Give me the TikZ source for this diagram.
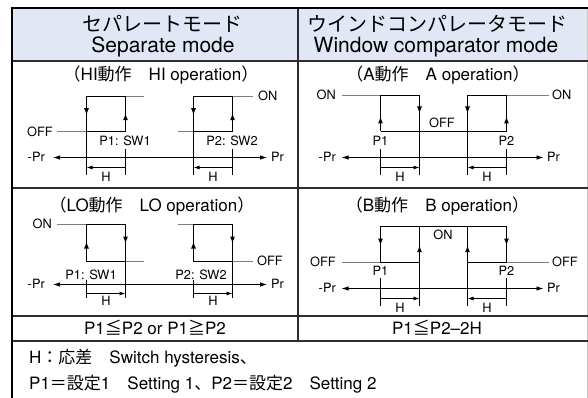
\documentclass[tikz,border=0pt]{standalone}
\usepackage{fontspec}
\setmainfont{TeX Gyre Heros}
\newfontfamily\jp{Noto Sans CJK JP}
\usetikzlibrary{arrows.meta}
\newcommand\jtxt[1]{{\jp #1}}
\definecolor{hdr}{RGB}{225,231,245}
\definecolor{extc}{RGB}{125,125,125}
\definecolor{rulec}{RGB}{45,45,45}
\definecolor{edgec}{RGB}{200,200,200}
\tikzset{
  waveln/.style={line width=1.05pt, black, line join=miter},
  extline/.style={line width=0.9pt, extc},
  axisln/.style={line width=0.75pt, black, {Latex[length=7pt,width=4.5pt]}-{Latex[length=7pt,width=4.5pt]}},
  tickln/.style={line width=0.75pt, black},
  harr/.style={line width=0.75pt, black, -{Latex[length=6pt,width=4pt]}},
  vtip/.style={line width=1.05pt, black, -{Latex[length=7pt,width=5pt]}},
  lbl/.style={font=\fontsize{12.8}{14}\selectfont, inner sep=0pt, anchor=base},
  lble/.style={lbl, anchor=base east},
  lblw/.style={lbl, anchor=base west},
  ttl/.style={font=\fontsize{17}{19}\selectfont, inner sep=0pt, anchor=base},
  hdrl/.style={font=\fontsize{21}{23}\selectfont, inner sep=0pt, anchor=base},
  hdrj/.style={font=\fontsize{20}{22}\selectfont, inner sep=0pt, anchor=base},
  rowln/.style={line width=1.1pt, rulec},
}
\newcommand\dtip[2]{\draw[vtip] (#1,#2-4) -- (#1,#2+3.5);}
\newcommand\utip[2]{\draw[vtip] (#1,#2+4) -- (#1,#2-3.5);}
\begin{document}
\begin{tikzpicture}[x=1pt,y=-1pt]
\useasboundingbox (0,0) rectangle (588,398);
% ---------- table ----------
\fill[hdr] (12,8) rectangle (588,61);
\draw[line width=1pt, edgec] (587.5,8) -- (587.5,398);
\draw[line width=1.6pt, rulec] (12,61) -- (588,61);
\draw[rowln] (12,188) -- (588,188);
\draw[rowln] (12,316) -- (588,316);
\draw[rowln] (12,341) -- (588,341);
\draw[rowln] (298,8) -- (298,341);
\draw[line width=2.4pt, black] (10.8,7.8) -- (588,7.8);
\draw[line width=2.4pt, black] (12,6.6) -- (12,398);
% ---------- header ----------
\node[hdrj] (h1j) at (162,32) {\jtxt{セパレートモード}};
\node[hdrl] (h1e) at (163,53) {Separate mode};
\node[hdrj] (h2j) at (437,32) {\jtxt{ウインドコンパレータモード}};
\node[hdrl] (h2e) at (436,53) {Window comparator mode};
% ---------- HI operation ----------
\node[ttl] (thi) at (161,81) {\jtxt{（}HI\jtxt{動作　}HI operation\jtxt{）}};
\draw[extline] (57,131.5) -- (86.5,131.5);
\draw[extline] (125.5,96.5) -- (143.5,96.5);
\draw[extline] (177.5,131.5) -- (193.5,131.5);
\draw[extline] (232.5,96.5) -- (252.5,96.5);
\draw[tickln] (86.5,131.5) -- (86.5,175);
\draw[tickln] (125.5,149) -- (125.5,175);
\draw[tickln] (193.5,131.5) -- (193.5,175);
\draw[tickln] (232.5,149) -- (232.5,175);
\draw[waveln] (86.5,96.5) rectangle (125.5,131.5);
\draw[waveln] (193.5,96.5) rectangle (232.5,131.5);
\dtip{86.5}{111.7}
\dtip{193.5}{111.7}
\utip{125.5}{116.7}
\utip{232.5}{116.7}
\node[lble] (hioff) at (53,136.2) {OFF};
\node[lblw] (hion) at (258,100.6) {ON};
\node[lbl] (hip1) at (125,146) {P1: SW1};
\node[lbl] (hip2) at (232,146) {P2: SW2};
\draw[axisln] (53,157.5) -- (267,157.5);
\node[lble] (himr) at (45,161.8) {-Pr};
\node[lblw] (hipr) at (271,161.8) {Pr};
\draw[harr] (125.5,167.5) -- (86.5,167.5);
\draw[harr] (232.5,167.5) -- (193.5,167.5);
\node[lbl] (hih1) at (106,181.7) {H};
\node[lbl] (hih2) at (213,181.7) {H};
% ---------- LO operation ----------
\node[ttl] (tlo) at (152,211) {\jtxt{（}LO\jtxt{動作　}LO operation\jtxt{）}};
\draw[extline] (56.5,224.5) -- (86.5,224.5);
\draw[extline] (125.5,261.5) -- (143.5,261.5);
\draw[extline] (177.5,224.5) -- (193.5,224.5);
\draw[extline] (232.5,261.5) -- (252.5,261.5);
\draw[tickln] (86.5,280) -- (86.5,298.3);
\draw[tickln] (125.5,261.5) -- (125.5,298.3);
\draw[tickln] (193.5,280) -- (193.5,298.3);
\draw[tickln] (232.5,261.5) -- (232.5,298.3);
\draw[waveln] (86.5,224.5) rectangle (125.5,261.5);
\draw[waveln] (193.5,224.5) rectangle (232.5,261.5);
\utip{86.5}{245}
\utip{193.5}{245}
\dtip{125.5}{240}
\dtip{232.5}{240}
\node[lble] (loon) at (52,228.8) {ON};
\node[lblw] (looff) at (257,265.8) {OFF};
\node[lbl] (lop1) at (91,279.3) {P1: SW1};
\node[lbl] (lop2) at (201,279.3) {P2: SW2};
\draw[axisln] (53,284.5) -- (267,284.5);
\node[lble] (lomr) at (45,288.8) {-Pr};
\node[lblw] (lopr) at (271,288.8) {Pr};
\draw[harr] (86.5,293.5) -- (125.5,293.5);
\draw[harr] (193.5,293.5) -- (232.5,293.5);
\node[lbl] (loh1) at (106,305.7) {H};
\node[lbl] (loh2) at (213,305.7) {H};
% ---------- A operation ----------
\node[ttl] (ta) at (438,81) {\jtxt{（}A\jtxt{動作　}A operation\jtxt{）}};
\draw[extline] (341.5,95.5) -- (380.5,95.5);
\draw[extline] (506.5,95.5) -- (548.5,95.5);
\draw[tickln] (380.5,149) -- (380.5,175);
\draw[tickln] (419.5,131.5) -- (419.5,175);
\draw[tickln] (467.5,131.5) -- (467.5,175);
\draw[tickln] (506.5,149) -- (506.5,175);
\draw[waveln] (380.5,131.5) -- (380.5,95.5) -- (419.5,95.5) -- (419.5,131.5);
\draw[waveln] (467.5,131.5) -- (467.5,95.5) -- (506.5,95.5) -- (506.5,131.5);
\draw[waveln] (380.5,131.5) -- (506.5,131.5);
\utip{380.5}{120}
\utip{506.5}{120}
\dtip{419.5}{110}
\dtip{467.5}{110}
\node[lble] (aon1) at (336,99.8) {ON};
\node[lblw] (aon2) at (552,99.8) {ON};
\node[lbl] (aoff) at (442,127.6) {OFF};
\node[lbl] (ap1) at (380.5,145.5) {P1};
\node[lbl] (ap2) at (506.5,145.5) {P2};
\draw[axisln] (341.5,157.5) -- (543.5,157.5);
\node[lble] (amr) at (336,161.8) {-Pr};
\node[lblw] (apr) at (547,161.8) {Pr};
\draw[harr] (380.5,167.5) -- (419.5,167.5);
\draw[harr] (506.5,167.5) -- (467.5,167.5);
\node[lbl] (ah1) at (400,181.7) {H};
\node[lbl] (ah2) at (487,181.7) {H};
% ---------- B operation ----------
\node[ttl] (tb) at (437.5,211.5) {\jtxt{（}B\jtxt{動作　}B operation\jtxt{）}};
\draw[extline] (341.5,262.5) -- (380.5,262.5);
\draw[extline] (506.5,262.5) -- (548.5,262.5);
\draw[tickln] (380.5,278) -- (380.5,305.5);
\draw[tickln] (419.5,262.5) -- (419.5,305.5);
\draw[tickln] (467.5,262.5) -- (467.5,305.5);
\draw[tickln] (506.5,278) -- (506.5,305.5);
\draw[waveln] (380.5,262.5) -- (380.5,226.5) -- (506.5,226.5) -- (506.5,262.5);
\draw[waveln] (380.5,262.5) -- (419.5,262.5) -- (419.5,226.5);
\draw[waveln] (467.5,226.5) -- (467.5,262.5) -- (506.5,262.5);
\dtip{380.5}{242}
\dtip{506.5}{242}
\utip{419.5}{248.7}
\utip{467.5}{248.7}
\node[lbl] (bon) at (443,239.6) {ON};
\node[lble] (boff1) at (336,266.8) {OFF};
\node[lblw] (boff2) at (552,266.8) {OFF};
\node[lbl] (bp1) at (380.5,275.6) {P1};
\node[lbl] (bp2) at (506.5,275.6) {P2};
\draw[axisln] (341.5,288.5) -- (543.5,288.5);
\node[lble] (bmr) at (336,292.8) {-Pr};
\node[lblw] (bpr) at (547,292.8) {Pr};
\draw[harr] (380.5,298.5) -- (419.5,298.5);
\draw[harr] (506.5,298.5) -- (467.5,298.5);
\node[lbl] (bh1) at (400,312) {H};
\node[lbl] (bh2) at (487,312) {H};
% ---------- conditions ----------
\node[ttl] (c1) at (155,334.5) {P1\jtxt{≦}P2 or P1\jtxt{≧}P2};
\node[ttl] (c2) at (437,334.5) {P1\jtxt{≦}P2–2H};
% ---------- notes ----------
\node[ttl, anchor=base west] (n1) at (29,363) {H\jtxt{：応差　}Switch hysteresis\jtxt{、}};
\node[ttl, anchor=base west] (n2) at (29,389) {P1\jtxt{＝設定}1\jtxt{　}Setting 1\jtxt{、}P2\jtxt{＝設定}2\jtxt{　}Setting 2};
\end{tikzpicture}
\end{document}
